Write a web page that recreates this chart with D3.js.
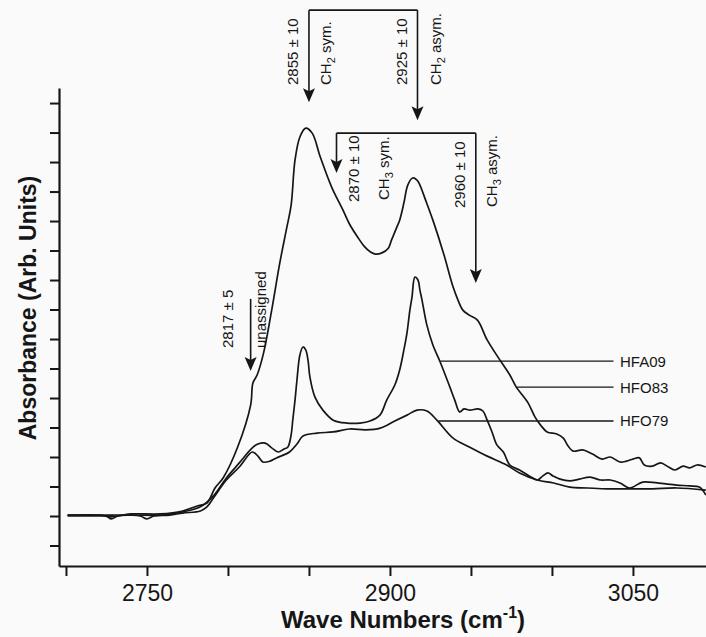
<!DOCTYPE html>
<html>
<head>
<meta charset="utf-8">
<script src="https://cdn.jsdelivr.net/npm/d3@7/dist/d3.min.js"></script>
<style>
body { margin: 0; background: #fafafa; }
svg { display: block; font-family: "Liberation Sans", Arial, Helvetica, sans-serif; }
</style>
</head>
<body>
<script>
width = 706;
height = 637;

// x ticks every 50 cm-1, only three of them carry a label
var wnTicks = [2700, 2750, 2800, 2850, 2900, 2950, 3000, 3050];
var tickLabels = ["2750", "2900", "3050"];
var absTicks = [-1, 0, 1, 2, 3, 4, 5, 6, 7, 8, 9, 10, 11, 12, 13, 14];

// spectra: [wave number, absorbance (arb.)]
var hfo83 = [[2701,0.03],[2721,0.03],[2728,-0.03],[2740,0.07],[2758,0.07],[2772,0.17],[2781,0.34],
[2787,0.44],[2792,0.95],[2797,1.29],[2806,2.34],[2814,3.76],[2815.4,4.51],[2818,4.78],[2822,5.53],
[2827,6.98],[2832,8.58],[2836.4,9.80],[2839,10.54],[2841.4,12.07],[2844.4,12.85],[2848,13.15],
[2852,12.98],[2857,12.17],[2864,11.15],[2871,10.37],[2875,9.90],[2880,9.46],[2884,9.15],[2888,8.95],
[2891,8.88],[2895,8.92],[2899,9.08],[2901,9.36],[2904,9.76],[2906,10.03],[2908.6,10.61],[2911,11.22],
[2914,11.46],[2916.7,11.39],[2918.5,11.22],[2922,10.71],[2926.5,10.03],[2933,8.92],[2939,7.76],
[2942,7.32],[2945,6.98],[2949,6.81],[2954,6.64],[2960,5.97],[2967,5.36],[2974,4.78],[2978,4.37],
[2985,3.86],[2989.5,3.36],[2993,3.08],[2997,2.85],[3003,2.78],[3007,2.64],[3010,2.37],[3013,2.20],
[3019,2.24],[3025,2.10],[3031,1.93],[3036,2.00],[3042,1.83],[3046,1.86],[3050,1.93],[3054,1.97],
[3057,1.73],[3062,1.69],[3067,1.80],[3072,1.66],[3076,1.56],[3081,1.69],[3085,1.63],[3089.5,1.73],[3095,1.66]];

var hfa09 = [[2701,0.00],[2721,0.00],[2725,0.00],[2728,-0.10],[2732,0.00],[2740,0.03],[2758,0.03],
[2772,0.14],[2783,0.31],[2791,0.68],[2799,1.29],[2807,1.80],[2815,2.31],[2818.5,2.44],[2823,2.47],
[2827,2.31],[2831,2.17],[2834.6,2.27],[2837,2.34],[2839,2.75],[2840,3.25],[2841.4,3.93],[2842.6,4.61],
[2844.4,5.46],[2846.3,5.73],[2848,5.63],[2849.4,5.29],[2850.6,4.71],[2853.7,4.03],[2858.6,3.59],
[2865,3.25],[2873.5,3.15],[2881.5,3.15],[2887.7,3.22],[2893.8,3.42],[2898,3.93],[2903,4.44],
[2906,4.95],[2908.6,5.63],[2910.5,6.20],[2912.3,6.98],[2913.6,7.42],[2915.4,8.10],[2917.3,8.00],
[2918.5,7.66],[2919.8,7.32],[2922.8,6.47],[2926.5,5.80],[2931,5.22],[2937,4.37],[2940,3.93],
[2943,3.53],[2945.7,3.63],[2949.4,3.59],[2954.3,3.63],[2957.4,3.56],[2960,3.25],[2963,2.85],
[2966,2.41],[2970,2.17],[2974,1.73],[2980,1.56],[2986,1.36],[2991,1.22],[2994.4,1.36],[2997.5,1.46],
[3000.6,1.36],[3005,1.25],[3011,1.19],[3017,1.25],[3023.5,1.32],[3030,1.22],[3036,1.22],[3042,1.12],
[3048,0.95],[3056,1.15],[3065,1.12],[3077,1.05],[3085,1.02],[3091,0.98],[3095,0.71]];

var hfo79 = [[2701,0.03],[2721,0.03],[2745.7,0.00],[2750,-0.10],[2754.3,0.00],[2764,0.03],[2772,0.10],
[2783,0.17],[2787,0.31],[2791,0.61],[2799,1.22],[2807,1.66],[2815,2.17],[2818.5,2.03],[2821.6,1.83],
[2826,1.86],[2830,1.97],[2838,2.17],[2842.6,2.44],[2846.3,2.71],[2855,2.81],[2865,2.85],[2875,2.95],
[2885,2.92],[2894,2.98],[2903,3.22],[2910.5,3.42],[2916.7,3.59],[2922.8,3.56],[2929,3.25],
[2939,2.64],[2949,2.34],[2960,2.03],[2972,1.73],[2980,1.46],[2991,1.22],[3001,1.12],[3011,0.98],
[3022,0.95],[3034,0.92],[3046,0.92],[3062,0.92],[3077,0.95],[3095,0.88]];

// band assignments
var bandWn = [2850, 2917, 2867, 2953, 2814];
var bandValues = ["2855 \u00b1 10", "2925 \u00b1 10", "2870 \u00b1 10", "2960 \u00b1 10", "2817 \u00b1 5"];
var bandGroups = ["CH", "CH", "CH", "CH", ""];
var bandSubs = ["2", "2", "3", "3", ""];
var bandModes = [" sym.", " asym.", " sym.", " asym.", "unassigned"];

var seriesNames = ["HFA09", "HFO83", "HFO79"];

var padding = {top: 88, right: 0, bottom: 71, left: 59};

svg = d3.select("body")
.append("svg")
.attr("width", width)
.attr("height", height);

var xScale = d3.scaleLinear()
.domain([2695.7, 3095.1])
.range([padding.left, width - padding.right]);

var yScale = d3.scaleLinear()
.domain([-1.695, 14.51])
.range([height - padding.bottom, padding.top]);

var ink = "#161616";

var linePath = d3.line()
.x(function(d){ return xScale(d[0]); })
.y(function(d){ return yScale(d[1]); })
.curve(d3.curveCatmullRom.alpha(0.5));

svg.selectAll("path.spec")
.data([hfo83, hfa09, hfo79])
.enter()
.append("path")
.attr("class", "spec")
.attr("d", function(d){ return linePath(d); })
.attr("fill", "none")
.attr("stroke", ink)
.attr("stroke-width", 1.7)
.attr("stroke-linejoin", "round");

// axes
var xAxis = d3.axisBottom(xScale)
.tickValues(wnTicks)
.tickSize(10)
.tickSizeOuter(0)
.tickPadding(9)
.tickFormat(function(d){ return tickLabels.indexOf(String(d)) >= 0 ? d : ""; });

var yAxis = d3.axisLeft(yScale)
.tickValues(absTicks)
.tickSize(9)
.tickSizeOuter(0)
.tickFormat("");

var gx = svg.append("g")
.attr("transform", "translate(0," + (height - padding.bottom) + ")")
.call(xAxis);

var gy = svg.append("g")
.attr("transform", "translate(" + padding.left + ",0)")
.call(yAxis);

[gx, gy].forEach(function(g){
  g.select(".domain").attr("stroke", ink).attr("stroke-width", 2.2);
  g.selectAll(".tick line").attr("stroke", ink).attr("stroke-width", 2);
  g.selectAll(".tick text").attr("fill", ink).attr("font-size", 23).attr("font-family", "Liberation Sans, Arial, sans-serif");
});

// axis titles
svg.append("text")
.attr("transform", "translate(28,308) rotate(-90)")
.attr("dy", "0.35em")
.attr("text-anchor", "middle")
.attr("font-size", 23)
.attr("font-weight", "bold")
.attr("fill", ink)
.text("Absorbance (Arb. Units)");

var xt = svg.append("text")
.attr("x", 403)
.attr("y", 628)
.attr("text-anchor", "middle")
.attr("font-size", 24)
.attr("font-weight", "bold")
.attr("fill", ink);
xt.append("tspan").text("Wave Numbers (cm");
xt.append("tspan").attr("dy", -10).attr("font-size", 16).text("-1");
xt.append("tspan").attr("dy", 10).text(")");

// arrows: tip height and top of shaft (absorbance units), label layout in px
var arrowTip = [14.03, 13.42, 11.63, 7.90, 4.92];
var arrowTop = [17.15, 17.15, 12.98, 12.98, 7.36];
var valueDx = [-16, -16, 17, -16, -23];
var modeDx = [17, 18, 47, 16, 10];
var valueBottom = [85, 85, 202, 208, 348];
var modeBottom = [85, 85, 200, 207, 348];

bandWn.forEach(function(w, i){
  var x = xScale(w);
  svg.append("line")
  .attr("x1", x).attr("x2", x)
  .attr("y1", yScale(arrowTop[i])).attr("y2", yScale(arrowTip[i]) - 6)
  .attr("stroke", ink).attr("stroke-width", 1.6);
  var ty = yScale(arrowTip[i]);
  svg.append("path")
  .attr("d", "M" + x + "," + ty + " l-6,-14 l6,3 l6,-3 z")
  .attr("fill", ink);

  svg.append("text")
  .attr("transform", "translate(" + (x + valueDx[i]) + "," + valueBottom[i] + ") rotate(-90)")
  .attr("dy", "0.35em")
  .attr("font-size", 15)
  .attr("fill", ink)
  .text(bandValues[i]);

  var m = svg.append("text")
  .attr("transform", "translate(" + (x + modeDx[i]) + "," + modeBottom[i] + ") rotate(-90)")
  .attr("dy", "0.35em")
  .attr("font-size", 15)
  .attr("fill", ink);
  if (bandGroups[i]) {
    m.append("tspan").text(bandGroups[i]);
    m.append("tspan").attr("dy", 4).attr("font-size", 11).text(bandSubs[i]);
    m.append("tspan").attr("dy", -4).text(bandModes[i]);
  } else {
    m.text(bandModes[i]);
  }
});

// brackets joining paired bands
[[0, 1], [2, 3]].forEach(function(p){
  svg.append("line")
  .attr("x1", xScale(bandWn[p[0]])).attr("x2", xScale(bandWn[p[1]]))
  .attr("y1", yScale(arrowTop[p[0]])).attr("y2", yScale(arrowTop[p[0]]))
  .attr("stroke", ink).attr("stroke-width", 1.6);
});

// sample labels with leader lines
var leaderStart = [2931, 2978.4, 2930];
var leaderLevel = [5.25, 4.37, 3.22];
seriesNames.forEach(function(name, i){
  svg.append("line")
  .attr("x1", xScale(leaderStart[i])).attr("x2", xScale(3038))
  .attr("y1", yScale(leaderLevel[i])).attr("y2", yScale(leaderLevel[i]))
  .attr("stroke", ink).attr("stroke-width", 1.3);
  svg.append("text")
  .attr("x", xScale(3042))
  .attr("y", yScale(leaderLevel[i]))
  .attr("dy", "0.36em")
  .attr("font-size", 15)
  .attr("fill", ink)
  .text(name);
});
</script>
</body>
</html>
